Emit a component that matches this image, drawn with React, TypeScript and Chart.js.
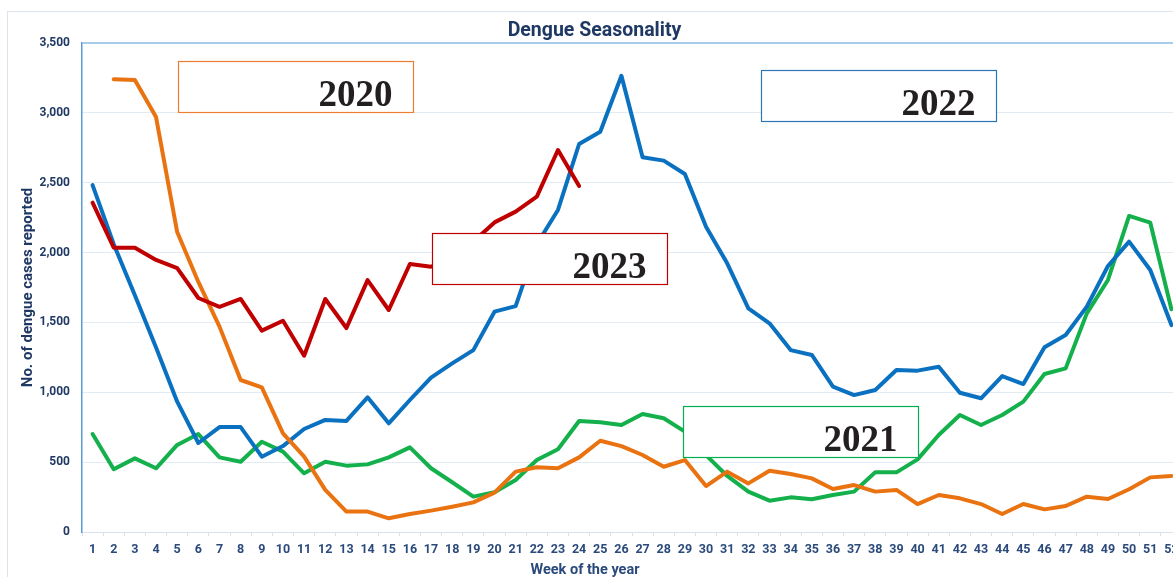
import React, { useEffect, useRef } from 'react';
import { Chart, registerables } from 'chart.js';

Chart.register(...registerables);

const weeks = ['1', '2', '3', '4', '5', '6', '7', '8', '9', '10', '11', '12', '13', '14', '15', '16', '17', '18', '19', '20', '21', '22', '23', '24', '25', '26', '27', '28', '29', '30', '31', '32', '33', '34', '35', '36', '37', '38', '39', '40', '41', '42', '43', '44', '45', '46', '47', '48', '49', '50', '51', '52'];

const cases2020 = [null, 3240, 3235, 2970, 2147, 1790, 1470, 1088, 1035, 706, 539, 301, 146, 146, 98, 129, 153, 181, 212, 282, 432, 463, 456, 534, 653, 615, 551, 467, 515, 329, 432, 348, 439, 415, 384, 308, 336, 289, 301, 200, 265, 241, 200, 129, 200, 162, 186, 253, 236, 306, 391, 401];

const cases2021 = [701, 449, 527, 456, 623, 701, 534, 503, 646, 575, 420, 503, 475, 484, 534, 606, 456, 356, 253, 284, 372, 515, 592, 794, 785, 766, 845, 814, 718, 550, 401, 289, 224, 248, 234, 265, 289, 427, 427, 520, 694, 837, 766, 837, 933, 1131, 1171, 1565, 1804, 2262, 2214, 1594];

const cases2022 = [2483, 2060, 1695, 1320, 933, 637, 751, 751, 539, 615, 737, 802, 795, 964, 778, 945, 1105, 1207, 1302, 1577, 1617, 2060, 2305, 2777, 2865, 3265, 2682, 2658, 2562, 2185, 1923, 1601, 1494, 1302, 1267, 1040, 980, 1016, 1160, 1155, 1183, 997, 957, 1116, 1059, 1322, 1410, 1613, 1904, 2078, 1875, 1481];

const cases2023 = [2357, 2035, 2035, 1947, 1889, 1675, 1612, 1668, 1441, 1512, 1262, 1668, 1460, 1803, 1589, 1918, 1899, 1950, 2080, 2216, 2293, 2400, 2734, 2476, null, null, null, null, null, null, null, null, null, null, null, null, null, null, null, null, null, null, null, null, null, null, null, null, null, null, null, null];

const yTicks = [0, 500, 1000, 1500, 2000, 2500, 3000, 3500];

// Year tag boxes, anchored in data space (left week position, top value)
const tagLabels = ['2020', '2022', '2023', '2021'];
const tagWeeks = [5.04, 32.6, 17.05, 28.9];
const tagValues = [3370, 3305, 2140, 900];
const tagColors = ['#ED7D31', '#2E75B6', '#C00000', '#00B050'];

const SANS = 'Roboto, "Noto Sans", sans-serif';
const NAVY = '#1F3864';

export default function App() {
  const canvasRef = useRef<HTMLCanvasElement>(null);

  useEffect(() => {
    const canvas = canvasRef.current;
    if (!canvas) return;

    const framePlugin = {
      id: 'frame',
      beforeDraw(chart: any) {
        const { ctx, width, height } = chart;
        ctx.save();
        ctx.fillStyle = '#ffffff';
        ctx.fillRect(0, 0, width, height);
        ctx.strokeStyle = '#DCE3EC';
        ctx.lineWidth = 1;
        ctx.strokeRect(0.5, 3.5, width + 20, height + 20);
        ctx.restore();
      },
    };

    const tagPlugin = {
      id: 'tags',
      afterDatasetsDraw(chart: any) {
        const { ctx } = chart;
        const xs = chart.scales.x;
        const ys = chart.scales.y;
        const w = 235;
        const h = 51;
        ctx.save();
        tagLabels.forEach((label, i) => {
          const left = Math.round(xs.getPixelForValue(tagWeeks[i] - 1)) + 0.5;
          const top = Math.round(ys.getPixelForValue(tagValues[i])) + 0.5;
          ctx.fillStyle = '#ffffff';
          ctx.fillRect(left, top, w, h);
          ctx.strokeStyle = tagColors[i];
          ctx.lineWidth = 1.2;
          ctx.strokeRect(left, top, w, h);
          ctx.fillStyle = '#231F20';
          ctx.font = 'bold 37px "Liberation Serif", "DejaVu Serif", serif';
          ctx.textAlign = 'right';
          ctx.textBaseline = 'alphabetic';
          ctx.fillText(label, left + w - 21, top + 44);
        });
        ctx.restore();
      },
    };

    const xTitlePlugin = {
      id: 'xTitle',
      afterDraw(chart: any) {
        const { ctx } = chart;
        ctx.save();
        ctx.fillStyle = '#2B4A7C';
        ctx.font = `bold 14.5px ${SANS}`;
        ctx.textAlign = 'center';
        ctx.textBaseline = 'middle';
        ctx.fillText('Week of the year', 578, 562);
        ctx.restore();
      },
    };

    const mk = (label: string, data: (number | null)[], color: string) => ({
      label,
      data,
      borderColor: color,
      backgroundColor: color,
      borderWidth: 4,
      pointRadius: 0,
      pointHoverRadius: 0,
      tension: 0,
      spanGaps: false,
      borderJoinStyle: 'round' as const,
      borderCapStyle: 'round' as const,
      fill: false,
    });

    const chart = new Chart(canvas, {
      type: 'line',
      data: {
        labels: weeks,
        datasets: [
          mk('2023', cases2023, '#C00000'),
          mk('2020', cases2020, '#EA7311'),
          mk('2022', cases2022, '#0A70C0'),
          mk('2021', cases2021, '#14B04C'),
        ],
      },
      options: {
        responsive: false,
        animation: false,
        devicePixelRatio: 1,
        layout: { padding: { left: 0, right: 25, top: 0, bottom: 0 } },
        plugins: {
          legend: { display: false },
          tooltip: { enabled: false },
          title: {
            display: true,
            text: 'Dengue Seasonality',
            color: NAVY,
            font: { family: SANS, size: 19.5, weight: 'bold', lineHeight: 1.2 },
            padding: { top: 11.6, bottom: 0 },
          },
        },
        scales: {
          x: {
            type: 'category',
            offset: true,
            afterFit(scale: any) {
              scale.height = 66;
            },
            grid: {
              display: true,
              offset: true,
              drawOnChartArea: false,
              drawTicks: true,
              tickLength: 4,
              color: '#D9E1EC',
            },
            border: { display: true, color: '#D9E1EC', width: 1 },
            ticks: {
              autoSkip: false,
              maxRotation: 0,
              minRotation: 0,
              padding: 6,
              color: '#2B4A7C',
              font: { family: SANS, size: 12.5, weight: 'bold' },
            },
          },
          y: {
            min: 0,
            max: 3500,
            afterFit(scale: any) {
              scale.width = 75;
            },
            afterBuildTicks(scale: any) {
              scale.ticks = yTicks.map((v) => ({ value: v }));
            },
            grid: {
              drawTicks: false,
              color: (ctx: any) => (ctx.tick && ctx.tick.value === 3500 ? '#A9CBEA' : '#E2EAF4'),
              lineWidth: (ctx: any) => (ctx.tick && ctx.tick.value === 3500 ? 2 : 1),
            },
            border: { display: true, color: '#5B9BD5', width: 1.5 },
            ticks: {
              padding: 12,
              color: NAVY,
              font: { family: SANS, size: 12, weight: 'bold' },
              callback: (v: any) => Number(v).toLocaleString('en-US'),
            },
            title: {
              display: true,
              text: 'No. of dengue cases reported',
              color: NAVY,
              font: { family: SANS, size: 15, weight: 'bold', lineHeight: 1.2 },
              padding: { top: 12, bottom: 0 },
            },
          },
        },
      },
      plugins: [framePlugin, tagPlugin, xTitlePlugin],
    });

    return () => {
      chart.destroy();
    };
  }, []);

  return (
    <div
      style={{
        position: 'fixed',
        left: 7,
        top: 8,
        width: 1166,
        height: 569,
        overflow: 'hidden',
        background: '#ffffff',
      }}
    >
      <canvas
        ref={canvasRef}
        width={1200}
        height={590}
        style={{ width: 1200, height: 590, display: 'block' }}
      />
    </div>
  );
}
